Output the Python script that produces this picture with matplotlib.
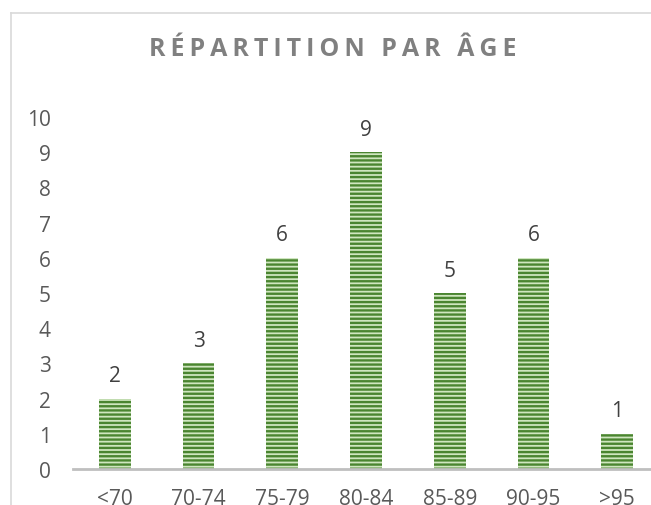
import matplotlib.pyplot as plt
from matplotlib.lines import Line2D

plt.rcParams['font.family'] = ['Open Sans', 'DejaVu Sans']
plt.rcParams['hatch.linewidth'] = 1.7

# Données
tranches = ["<70", "70-74", "75-79", "80-84", "85-89", "90-95", ">95"]
effectifs = [2, 3, 6, 9, 5, 6, 1]
graduations = list(range(0, 11))
titre = "RÉPARTITION PAR ÂGE"


def plot():
    fig = plt.figure(figsize=(6.51, 5.06), dpi=100)

    # Cadre gris clair du graphique (bords gauche et haut seulement visibles)
    x0, y0 = 10.5 / 651, 1 - 13.5 / 506
    fig.add_artist(Line2D([x0, x0], [0, y0], transform=fig.transFigure,
                          color='#d9d9d9', linewidth=1.2))
    fig.add_artist(Line2D([x0, 1], [y0, y0], transform=fig.transFigure,
                          color='#d9d9d9', linewidth=1.2))

    ax = fig.add_axes([73 / 651, 36 / 506, 586 / 651, 352 / 506])
    x = list(range(len(tranches)))
    ax.bar(x, effectifs, width=0.38, color='#cfe6bf', edgecolor='#4a8530',
           linewidth=0, hatch='----')

    for xi, v in zip(x, effectifs):
        ax.text(xi, v + 0.35, str(v), ha='center', va='bottom',
                fontsize=15, color='#404040')

    ax.set_xlim(-0.5, len(tranches) - 0.5)
    ax.set_ylim(0, 10)
    ax.set_yticks(graduations)
    ax.set_xticks(x)
    ax.set_xticklabels(tranches)
    ax.tick_params(axis='both', length=0, labelsize=15, colors='#595959')
    ax.tick_params(axis='y', pad=16)
    ax.tick_params(axis='x', pad=14)
    for s in ['top', 'right', 'left']:
        ax.spines[s].set_visible(False)
    ax.spines['bottom'].set_color('#bfbfbf')
    ax.spines['bottom'].set_linewidth(2.0)

    # Titre espacé
    fig.text(333 / 651, 1 - 49 / 506, "\u2009".join(titre),
             ha='center', va='center', fontsize=18, fontweight='bold',
             color='#808080')

    fig.savefig("out.png", dpi=100)


if __name__ == "__main__":
    plot()
